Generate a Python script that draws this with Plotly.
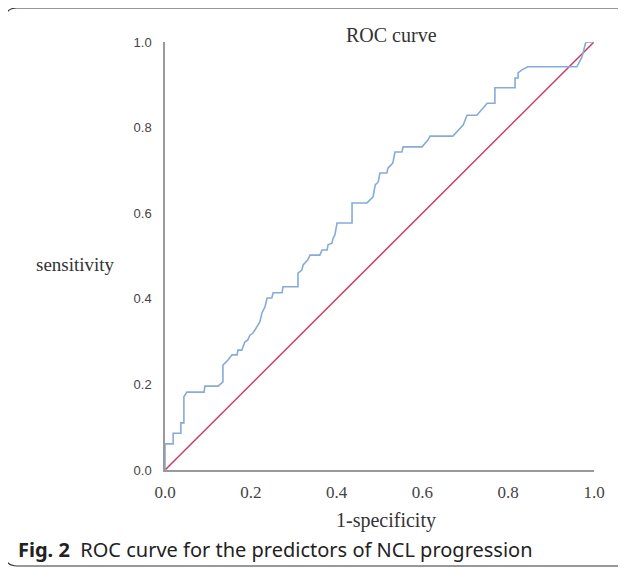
import plotly.graph_objects as go

# ROC curve points (1-specificity, sensitivity)
fpr = [0.0, 0.0, 0.019, 0.019, 0.037, 0.037, 0.044, 0.044, 0.051, 0.091, 0.093, 0.124,
       0.135, 0.135, 0.147, 0.156, 0.168, 0.170, 0.179, 0.186, 0.193, 0.198, 0.205, 0.210,
       0.217, 0.221, 0.226, 0.233, 0.238, 0.249, 0.252, 0.273, 0.275, 0.310, 0.310, 0.319,
       0.322, 0.333, 0.338, 0.361, 0.366, 0.378, 0.380, 0.389, 0.392, 0.396, 0.401, 0.436,
       0.436, 0.471, 0.478, 0.485, 0.490, 0.497, 0.501, 0.517, 0.520, 0.531, 0.536, 0.552,
       0.555, 0.599, 0.613, 0.618, 0.671, 0.688, 0.695, 0.704, 0.727, 0.751, 0.769, 0.769,
       0.816, 0.816, 0.823, 0.823, 0.832, 0.846, 0.960, 0.972, 0.981, 1.0]
tpr = [0.0, 0.061, 0.061, 0.086, 0.086, 0.110, 0.110, 0.171, 0.182, 0.182, 0.196, 0.196,
       0.206, 0.245, 0.257, 0.269, 0.269, 0.280, 0.280, 0.299, 0.304, 0.315, 0.320, 0.327,
       0.339, 0.346, 0.367, 0.381, 0.402, 0.402, 0.414, 0.414, 0.428, 0.428, 0.460, 0.467,
       0.479, 0.491, 0.502, 0.502, 0.514, 0.514, 0.526, 0.530, 0.542, 0.549, 0.577, 0.577,
       0.624, 0.624, 0.631, 0.638, 0.666, 0.673, 0.694, 0.694, 0.706, 0.717, 0.743, 0.743,
       0.755, 0.755, 0.771, 0.780, 0.780, 0.799, 0.806, 0.829, 0.829, 0.857, 0.857, 0.893,
       0.893, 0.916, 0.916, 0.928, 0.935, 0.942, 0.942, 0.965, 1.0, 1.0]
ref_x = [0.0, 1.0]
ref_y = [0.0, 1.0]
tick_vals = [0.0, 0.2, 0.4, 0.6, 0.8, 1.0]
tick_text = ["0.0", "0.2", "0.4", "0.6", "0.8", "1.0"]

OFF = 8  # default page body margin
W, H = 626 - OFF, 571 - OFF
L, T = 165 - OFF, 42 - OFF
R = W - (594 - OFF)
B = H - (470 - OFF)
pw, ph = W - L - R, H - T - B

def px(x):
    return (x - OFF - L) / pw

def py(y):
    return (H - B - (y - OFF)) / ph

fig = go.Figure()
fig.add_trace(go.Scatter(x=ref_x, y=ref_y, mode="lines",
                         line=dict(color="#cc3b62", width=1.5), hoverinfo="skip"))
fig.add_trace(go.Scatter(x=fpr, y=tpr, mode="lines",
                         line=dict(color="#86abd9", width=1.6), hoverinfo="skip"))

# rounded frame
x0, x1, y0, y1 = px(5), px(660), py(566), py(8)
rx, ry = 12 / pw, 12 / ph
path = (f"M {x0+rx},{y1} L {x1-rx},{y1} Q {x1},{y1} {x1},{y1-ry} "
        f"L {x1},{y0+ry} Q {x1},{y0} {x1-rx},{y0} L {x0+rx},{y0} "
        f"Q {x0},{y0} {x0},{y0+ry} L {x0},{y1-ry} Q {x0},{y1} {x0+rx},{y1} Z")

fig.update_layout(
    width=W, height=H,
    margin=dict(l=L, r=R, t=T, b=B, autoexpand=False),
    paper_bgcolor="white", plot_bgcolor="white",
    showlegend=False,
    xaxis=dict(range=[0, 1], tickvals=tick_vals, ticktext=tick_text,
               showgrid=False, zeroline=False, showline=True, linecolor="#9a9a9a",
               linewidth=1.5, ticks="", ticklabelstandoff=6,
               tickfont=dict(family="Liberation Serif", size=17, color="#444")),
    yaxis=dict(range=[0, 1], tickvals=tick_vals, ticktext=tick_text,
               showgrid=False, zeroline=False, showline=True, linecolor="#9a9a9a",
               linewidth=1.5, ticks="", ticklabelstandoff=9,
               tickfont=dict(family="Liberation Sans", size=13, color="#444")),
    shapes=[dict(type="path", xref="paper", yref="paper", path=path,
                 line=dict(color="#333", width=1.2), layer="below")],
    annotations=[
        dict(text="ROC curve", xref="paper", yref="paper", x=px(391), y=py(35),
             yanchor="middle", xanchor="center",
             showarrow=False, font=dict(family="Liberation Serif", size=20, color="#333")),
        dict(text="sensitivity", xref="paper", yref="paper", x=px(75), y=py(264),
             yanchor="middle", xanchor="center",
             showarrow=False, font=dict(family="Liberation Serif", size=19, color="#333")),
        dict(text="1-specificity", xref="paper", yref="paper", x=px(386), y=py(520),
             yanchor="middle", xanchor="center",
             showarrow=False, font=dict(family="Liberation Serif", size=20, color="#333")),
        dict(text="<b>Fig. 2</b>  ROC curve for the predictors of NCL progression",
             xref="paper", yref="paper", x=px(16), y=py(549), xanchor="left",
             yanchor="middle",
             showarrow=False, font=dict(family="Noto Sans", size=20, color="#222")),
    ],
)

fig.write_html("out.html")
